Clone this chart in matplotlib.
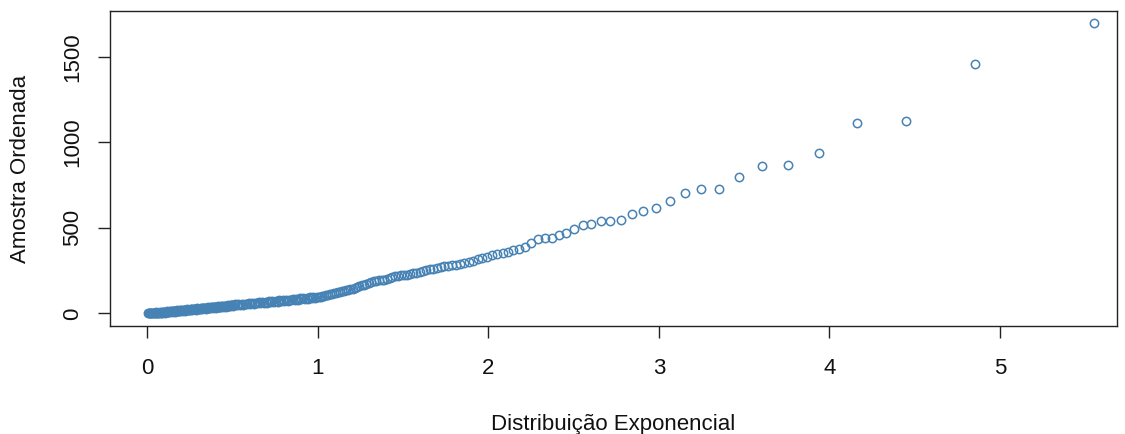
import matplotlib.pyplot as plt

plt.rcParams['font.family'] = ['Liberation Sans', 'DejaVu Sans']

# upper tail, one point per order statistic
x_tail = [5.549, 4.856, 4.451, 4.163, 3.940, 3.757, 3.603, 3.470, 3.352, 3.246,
          3.151, 3.064, 2.984, 2.910, 2.841, 2.776, 2.716, 2.659, 2.605, 2.553,
          2.505, 2.458, 2.414, 2.371, 2.330, 2.291, 2.253, 2.217, 2.182, 2.148,
          2.115, 2.084, 2.053, 2.023, 1.994, 1.966, 1.938, 1.912, 1.886]
y_tail = [1696, 1458, 1125, 1115, 936, 869, 861, 795, 729, 729,
          704, 657, 614, 596, 581, 546, 540, 540, 522, 515,
          491, 468, 458, 442, 442, 434, 413, 386, 376, 370,
          360, 351, 345, 339, 331, 323, 316, 308, 300]

# middle section
x_mid = [1.860, 1.836, 1.811, 1.788, 1.765, 1.742, 1.721, 1.699, 1.678, 1.657,
         1.637, 1.617, 1.598, 1.579, 1.560, 1.542, 1.524, 1.506, 1.489, 1.472,
         1.455, 1.438, 1.422, 1.406, 1.390, 1.375, 1.359, 1.344, 1.330, 1.315,
         1.301, 1.286, 1.272, 1.259, 1.245, 1.232, 1.218, 1.205, 1.192, 1.180,
         1.167, 1.155, 1.142, 1.130, 1.118, 1.106, 1.095, 1.083, 1.072, 1.061,
         1.049, 1.038, 1.027, 1.017, 1.006]
y_mid = [296, 289, 285, 281, 278, 275, 270, 266, 262, 257,
         252, 246, 240, 236, 234, 231, 226, 224, 222, 221,
         218, 210, 204, 200, 198, 196, 193, 190, 187, 184,
         178, 172, 168, 165, 162, 156, 150, 145, 141, 138,
         135, 132, 129, 127, 124, 121, 118, 116, 113, 110,
         107, 104, 101, 98, 95]

# dense lower section (markers overlap into a solid band)
x_low = [0.995, 0.985, 0.975, 0.965, 0.955, 0.945, 0.935, 0.925, 0.915, 0.905,
         0.895, 0.885, 0.875, 0.865, 0.855, 0.845, 0.835, 0.825, 0.815, 0.805,
         0.795, 0.785, 0.775, 0.765, 0.755, 0.745, 0.735, 0.725, 0.715, 0.705,
         0.695, 0.685, 0.675, 0.665, 0.655, 0.645, 0.635, 0.625, 0.615, 0.605,
         0.595, 0.585, 0.575, 0.565, 0.555, 0.545, 0.535, 0.525, 0.515, 0.505,
         0.495, 0.485, 0.475, 0.465, 0.455, 0.445, 0.435, 0.425, 0.415, 0.405,
         0.395, 0.385, 0.375, 0.365, 0.355, 0.345, 0.335, 0.325, 0.315, 0.305,
         0.295, 0.285, 0.275, 0.265, 0.255, 0.245, 0.235, 0.225, 0.215, 0.205,
         0.195, 0.185, 0.175, 0.165, 0.155, 0.145, 0.135, 0.125, 0.115, 0.105,
         0.095, 0.085, 0.075, 0.065, 0.055, 0.045, 0.035, 0.025, 0.015, 0.005]
y_low = [96, 89, 95, 87, 94, 86, 91, 84, 89, 82,
         88, 80, 85, 78, 84, 76, 81, 75, 80, 73,
         78, 71, 76, 69, 74, 67, 72, 65, 70, 63,
         68, 61, 67, 60, 65, 58, 63, 56, 61, 54,
         60, 52, 57, 50, 56, 48, 53, 46, 52, 44,
         49, 42, 48, 40, 45, 38, 44, 36, 41, 34,
         40, 32, 37, 30, 36, 28, 33, 26, 32, 24,
         29, 22, 28, 20, 25, 18, 24, 16, 21, 14,
         20, 12, 17, 10, 16, 8, 13, 6, 12, 4,
         9, 3, 8, 2, 6, 1, 5, 0, 3, 0]

# extra points where the sample is densest (x < 0.5)
x_dense = [0.50, 0.49, 0.48, 0.47, 0.46, 0.45, 0.44, 0.43, 0.42, 0.41,
           0.40, 0.39, 0.38, 0.37, 0.36, 0.35, 0.34, 0.33, 0.32, 0.31,
           0.30, 0.29, 0.28, 0.27, 0.26, 0.25, 0.24, 0.23, 0.22, 0.21,
           0.20, 0.19, 0.18, 0.17, 0.16, 0.15, 0.14, 0.13, 0.12, 0.11,
           0.10, 0.09, 0.08, 0.07, 0.06, 0.05, 0.04, 0.03, 0.02, 0.01]
y_dense = [47, 47, 45, 44, 43, 42, 41, 40, 39, 38,
           37, 36, 35, 34, 33, 32, 31, 30, 29, 28,
           27, 26, 25, 24, 23, 22, 21, 20, 19, 18,
           17, 16, 15, 14, 13, 12, 11, 10, 9, 8,
           7, 6, 5, 4, 4, 3, 2, 1, 1, 0]

x = x_tail + x_mid + x_low + x_dense
y = y_tail + y_mid + y_low + y_dense

fig = plt.figure(figsize=(11.25, 4.34), dpi=100)
ax = fig.add_axes([0.0978, 0.2488, 0.8951, 0.7258])

ax.plot(x, y, 'o', mfc='none', mec='#4682B4', ms=6.0, mew=1.1)

ax.set_xlim(-0.217, 5.686)
ax.set_ylim(-74, 1768)
ax.set_xticks([0, 1, 2, 3, 4, 5])
ax.set_yticks([0, 500, 1000, 1500])

for s in ax.spines.values():
    s.set_color('#222222')
    s.set_linewidth(1.0)

ax.tick_params(axis='both', direction='out', length=8.6, width=1, color='#222222',
               labelsize=16, labelcolor='#111111')
ax.tick_params(axis='x', pad=14.5)
ax.tick_params(axis='y', pad=10.5)
for lab in ax.get_yticklabels():
    lab.set_rotation(90)
    lab.set_va('center')

ax.set_xlabel('Distribuição Exponencial', fontsize=16, color='#111111', labelpad=25)
ax.set_ylabel('Amostra Ordenada', fontsize=16, color='#111111', labelpad=22.5)

fig.savefig('out.png', dpi=100)
